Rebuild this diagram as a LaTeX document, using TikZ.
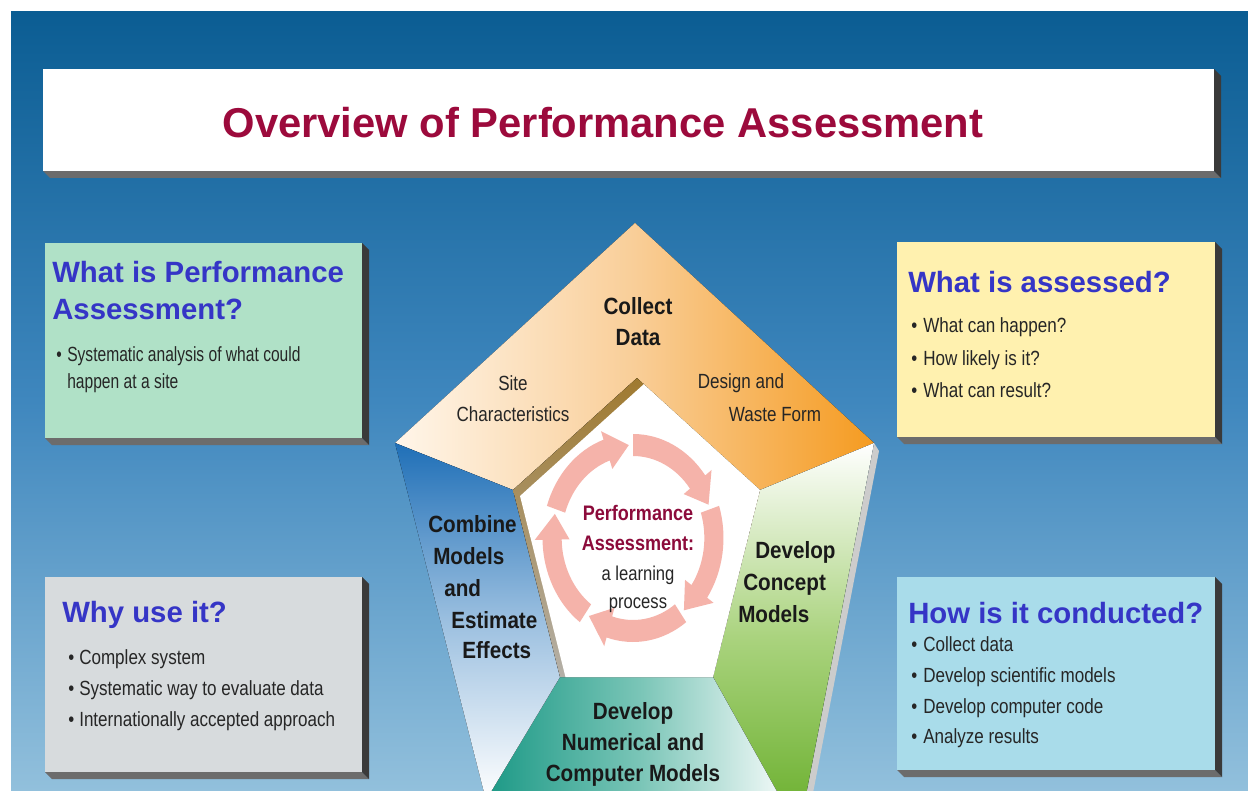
\documentclass[tikz,border=0pt]{standalone}
\usepackage{fontspec}
\setmainfont{Liberation Sans}
\usepackage{graphicx}
\definecolor{bgtop}{HTML}{0B5D93}
\definecolor{bgmid}{HTML}{3F87BE}
\definecolor{bgbot}{HTML}{92C0DC}
\definecolor{titlered}{HTML}{9C0A3C}
\definecolor{headblue}{HTML}{3535C6}
\definecolor{boxgreen}{HTML}{B0E1C7}
\definecolor{boxgray}{HTML}{D7DBDD}
\definecolor{boxyellow}{HTML}{FFF1AF}
\definecolor{boxcyan}{HTML}{A9DCEA}
\definecolor{shadR}{HTML}{3A3A3A}
\definecolor{shadB}{HTML}{6C6C6C}
\definecolor{orangeD}{HTML}{F59B20}
\definecolor{orangeM}{HTML}{F9CE98}
\definecolor{orangeL}{HTML}{FFF6EA}
\definecolor{blueD}{HTML}{1F6FB7}
\definecolor{blueM}{HTML}{9CC0E0}
\definecolor{greenD}{HTML}{66AD28}
\definecolor{greenM}{HTML}{AAD37E}
\definecolor{tealD}{HTML}{1C9986}
\definecolor{tealM}{HTML}{7CC6B8}
\definecolor{ringpink}{HTML}{F5B3AA}
\definecolor{bevelA}{HTML}{A07A30}
\definecolor{bevelB}{HTML}{B4B0A8}
\definecolor{maroon}{HTML}{8C0B3B}
\newcommand{\nar}[2][0.83]{\scalebox{#1}[1]{#2}}
\newcommand{\extrudedbox}[5]{%
  \fill[shadB] (#1,#4) -- (#3,#4) -- ++(7,7) -- (#1+7,#4+7) -- cycle;
  \fill[shadR] (#3,#2) -- ++(7,7) -- (#3+7,#4+7) -- (#3,#4) -- cycle;
  \fill[#5] (#1,#2) rectangle (#3,#4);}
\tikzset{
 ttl/.style={anchor=base, inner sep=0pt, text=titlered, font=\bfseries\fontsize{31.3}{36}\selectfont},
 hd/.style={anchor=base west, inner sep=0pt, text=headblue, font=\bfseries\fontsize{22}{26}\selectfont},
 bd/.style={anchor=base west, inner sep=0pt, text=black!85, font=\fontsize{15.4}{18}\selectfont},
 pb/.style={inner sep=0pt, text=black!90, font=\bfseries\fontsize{17.6}{20}\selectfont},
 ps/.style={anchor=base, inner sep=0pt, text=black!85, font=\fontsize{15.4}{18}\selectfont},
 cb/.style={anchor=base, inner sep=0pt, text=maroon, font=\bfseries\fontsize{15.75}{18}\selectfont},
 cr/.style={anchor=base, inner sep=0pt, text=black!85, font=\fontsize{15}{18}\selectfont},
}
\begin{document}
\begin{tikzpicture}[x=0.75pt,y=-0.75pt]
\useasboundingbox (0,0) rectangle (1248,791);
\clip (0,0) rectangle (1248,791);
\fill[white] (0,0) rectangle (1248,791);
% background
\fill[top color=bgtop, bottom color=bgbot, middle color=bgmid] (11,12) rectangle (1248,791);
% title box
\extrudedbox{43}{69}{1214}{171}{white}
\node[ttl] (title) at (603,138) {Overview of Performance Assessment};
% side boxes
\extrudedbox{45}{243}{362}{438}{boxgreen}
\extrudedbox{45}{577}{362}{772}{boxgray}
\extrudedbox{897}{242}{1215}{437}{boxyellow}
\extrudedbox{897}{577}{1215}{770}{boxcyan}
% pentagon coordinates
\coordinate (T) at (635,223);
\coordinate (UR) at (874,443);
\coordinate (UL) at (395,443);
\coordinate (LR) at (799,831);
\coordinate (LL) at (486,800);
\coordinate (IT) at (637,378);
\coordinate (IUL) at (513,490);
\coordinate (IUR) at (760,490);
\coordinate (ILL) at (560,677);
\coordinate (ILR) at (713,677);
% side face
\fill[gray!40] (UR) -- (879,451) -- ([xshift=5]LR) -- (LR) -- cycle;
% sections
\fill[left color=orangeL, right color=orangeD, middle color=orangeM] (T) -- (UR) -- (IUR) -- (IT) -- (IUL) -- (UL) -- cycle;
\fill[top color=white, bottom color=greenD, middle color=greenM] (UR) -- (LR) -- (ILR) -- (IUR) -- cycle;
\fill[left color=tealD, right color=white, middle color=tealM] (ILL) -- (ILR) -- (LR) -- (LL) -- cycle;
\fill[top color=blueD, bottom color=white, middle color=blueM] (UL) -- (IUL) -- (ILL) -- (LL) -- cycle;
% inner recessed face
\begin{scope}
\clip (IT) -- (IUR) -- (ILR) -- (ILL) -- (IUL) -- cycle;
\fill[top color=bevelA, bottom color=bevelB] (IT) -- (IUR) -- (ILR) -- (ILL) -- (IUL) -- cycle;
\fill[white] ([shift={(7,6)}]IT) -- ([shift={(7,6)}]IUR) -- ([shift={(7,6)}]ILR) -- ([shift={(7,6)}]ILL) -- ([shift={(7,6)}]IUL) -- cycle;
\end{scope}
% cycle arrows
\begin{scope}[shift={(633,538)}, xscale=0.87]
\foreach \t in {267,339,51,123,195}{
  \fill[ringpink] ({\t-69}:104) arc[start angle={\t-69}, end angle={\t-16}, radius=104]
    -- ({\t-16}:113) -- (\t:93) -- ({\t-16}:73) -- ({\t-16}:82)
    arc[start angle={\t-16}, end angle={\t-69}, radius=82] -- cycle;
}
\end{scope}
% pentagon texts
\node[pb,anchor=base] (collect) at (638,315) {\nar[0.88]{Collect}};
\node[pb,anchor=base] (data) at (638,345) {\nar[0.88]{Data}};
\node[ps] (site) at (513,390) {\nar{Site}};
\node[ps] (charac) at (513,421) {\nar{Characteristics}};
\node[ps] (design) at (741,388) {\nar{Design and}};
\node[ps] (waste) at (775,421) {\nar{Waste Form}};
\node[pb,anchor=base west] (combine) at (428,532) {\nar[0.88]{Combine}};
\node[pb,anchor=base west] (modelsA) at (433,564) {\nar[0.88]{Models}};
\node[pb,anchor=base west] (andA) at (444,596) {\nar[0.88]{and}};
\node[pb,anchor=base west] (estimate) at (451,628) {\nar[0.88]{Estimate}};
\node[pb,anchor=base west] (effects) at (462,658) {\nar[0.88]{Effects}};
\node[pb,anchor=base west] (developA) at (755,558) {\nar[0.88]{Develop}};
\node[pb,anchor=base west] (concept) at (743,590) {\nar[0.88]{Concept}};
\node[pb,anchor=base west] (modelsB) at (738,622) {\nar[0.88]{Models}};
\node[pb,anchor=base] (developB) at (633,719) {\nar[0.88]{Develop}};
\node[pb,anchor=base] (numerical) at (633,750) {\nar[0.88]{Numerical and}};
\node[pb,anchor=base] (computer) at (633,781) {\nar[0.88]{Computer Models}};
\node[cb] (perf) at (638,520) {\nar[0.86]{Performance}};
\node[cb] (assess) at (638,550) {\nar[0.86]{Assessment:}};
\node[cr] (learning) at (638,580) {\nar{a learning}};
\node[cr] (process) at (638,608) {\nar{process}};
% box 1
\node[hd] (h1a) at (52,283) {What is Performance};
\node[hd] (h1b) at (52,320) {Assessment?};
\node[bd] (u1a) at (56,361) {\nar[0.76]{•}};
\node[bd] (b1a) at (67,361) {\nar[0.76]{Systematic analysis of what could}};
\node[bd] (b1b) at (67,388) {\nar[0.76]{happen at a site}};
% box 2
\node[hd] (h2) at (62,622) {Why use it?};
\node[bd] (u2a) at (68,664) {\nar{•}};
\node[bd] (b2a) at (79,664) {\nar{Complex system}};
\node[bd] (u2b) at (68,695) {\nar{•}};
\node[bd] (b2b) at (79,695) {\nar{Systematic way to evaluate data}};
\node[bd] (u2c) at (68,726) {\nar{•}};
\node[bd] (b2c) at (79,726) {\nar{Internationally accepted approach}};
% box 3
\node[hd] (h3) at (908,293) {What is assessed?};
\node[bd] (u3a) at (911,333) {\nar{•}};
\node[bd] (b3a) at (923,333) {\nar{What can happen?}};
\node[bd] (u3b) at (911,365) {\nar{•}};
\node[bd] (b3b) at (923,365) {\nar{How likely is it?}};
\node[bd] (u3c) at (911,397) {\nar{•}};
\node[bd] (b3c) at (923,397) {\nar{What can result?}};
% box 4
\node[hd] (h4) at (908,623) {How is it conducted?};
\node[bd] (u4a) at (911,651) {\nar{•}};
\node[bd] (b4a) at (923,651) {\nar{Collect data}};
\node[bd] (u4b) at (911,682) {\nar{•}};
\node[bd] (b4b) at (923,682) {\nar{Develop scientific models}};
\node[bd] (u4c) at (911,713) {\nar{•}};
\node[bd] (b4c) at (923,713) {\nar{Develop computer code}};
\node[bd] (u4d) at (911,743) {\nar{•}};
\node[bd] (b4d) at (923,743) {\nar{Analyze results}};
\end{tikzpicture}
\end{document}
